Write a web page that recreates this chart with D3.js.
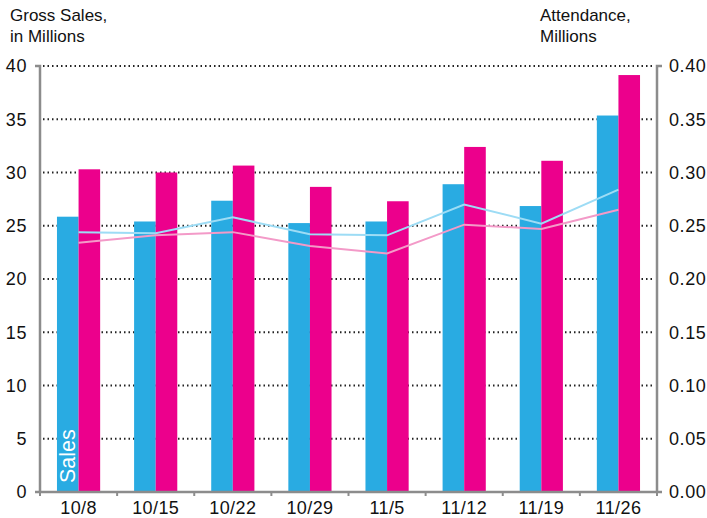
<!DOCTYPE html>
<html>
<head>
<meta charset="utf-8">
<script src="https://cdn.jsdelivr.net/npm/d3@7"></script>
<style>
  body { margin: 0; background: #fff; }
  svg text { font-family: "Liberation Sans", Arial, sans-serif; fill: #111; }
</style>
</head>
<body>
<svg id="canvas" width="707" height="518"></svg>
<script>
let weeks = ['10/8', '10/15', '10/22', '10/29', '11/5', '11/12', '11/19', '11/26']
let salesA = [25.85, 25.4, 27.35, 25.25, 25.4, 28.9, 26.85, 35.35]
let salesB = [30.3, 30.0, 30.65, 28.65, 27.3, 32.4, 31.1, 39.15]
let attendA = [0.244, 0.243, 0.258, 0.242, 0.241, 0.270, 0.252, 0.284]
let attendB = [0.234, 0.241, 0.244, 0.231, 0.224, 0.251, 0.247, 0.265]
let leftTicks = [0, 5, 10, 15, 20, 25, 30, 35, 40]
let rightTicks = [0, 0.05, 0.1, 0.15, 0.2, 0.25, 0.3, 0.35, 0.4]

let canvas = d3.select('#canvas')
let plotL = 40, plotR = 657, plotT = 66, plotB = 492

let xScale = d3.scaleBand().domain(weeks).range([plotL, plotR]).paddingInner(0.44).paddingOuter(0.22)
let yLeft = d3.scaleLinear().domain([0, 40]).range([plotB, plotT])
let yRight = d3.scaleLinear().domain([0, 0.4]).range([plotB, plotT])

// dotted grid
canvas.selectAll('.grid')
      .data(leftTicks.slice(1))
      .enter()
      .append('line')
      .attr('x1', plotL + 3)
      .attr('x2', plotR - 2)
      .attr('y1', (d) => yLeft(d))
      .attr('y2', (d) => yLeft(d))
      .attr('stroke', '#222')
      .attr('stroke-width', 2)
      .attr('stroke-dasharray', '1.5,3')

// bars
let bw = xScale.bandwidth() / 2
canvas.selectAll('.barA')
      .data(weeks)
      .enter()
      .append('rect')
      .attr('x', (d) => xScale(d))
      .attr('y', (d, i) => yLeft(salesA[i]))
      .attr('width', bw)
      .attr('height', (d, i) => plotB - yLeft(salesA[i]))
      .attr('fill', '#29abe2')
canvas.selectAll('.barB')
      .data(weeks)
      .enter()
      .append('rect')
      .attr('x', (d) => xScale(d) + bw)
      .attr('y', (d, i) => yLeft(salesB[i]))
      .attr('width', bw)
      .attr('height', (d, i) => plotB - yLeft(salesB[i]))
      .attr('fill', '#ec008c')

// attendance lines
let center = (d) => xScale(d) + bw
let lineA = d3.line().x((d, i) => center(weeks[i])).y((d) => yRight(d))
canvas.append('path')
      .attr('d', lineA(attendA))
      .attr('fill', 'none')
      .attr('stroke', '#9ddcf5')
      .attr('stroke-width', 2)
canvas.append('path')
      .attr('d', lineA(attendB))
      .attr('fill', 'none')
      .attr('stroke', '#f39ac8')
      .attr('stroke-width', 2)

// axes
let leftAxis = d3.axisLeft(yLeft).tickValues(leftTicks).tickSize(0).tickPadding(13)
let rightAxis = d3.axisRight(yRight).tickValues(rightTicks).tickSize(0).tickPadding(12)
  .tickFormat(d3.format('.2f'))
let ga = canvas.append('g').attr('transform', 'translate(' + plotL + ',0)').call(leftAxis)
let gb = canvas.append('g').attr('transform', 'translate(' + plotR + ',0)').call(rightAxis)
;[ga, gb].forEach((g) => {
  g.select('.domain').remove()
  g.selectAll('text').attr('font-size', 18).attr('fill', '#111')
    .attr('letter-spacing', 0.6)
    .attr('font-family', '"Liberation Sans", Arial, sans-serif')
})
let axisColor = '#8c8c8c'
canvas.append('path')
      .attr('d', 'M' + (plotL - 5) + ',' + plotT + 'H' + plotL + 'V' + plotB)
      .attr('fill', 'none').attr('stroke', axisColor).attr('stroke-width', 2.5)
canvas.append('path')
      .attr('d', 'M' + (plotR + 5) + ',' + plotT + 'H' + plotR + 'V' + plotB)
      .attr('fill', 'none').attr('stroke', axisColor).attr('stroke-width', 2.5)

let bottomAxis = d3.axisBottom(xScale).tickSize(0).tickPadding(9)
let gx = canvas.append('g').attr('transform', 'translate(0,' + plotB + ')').call(bottomAxis)
gx.select('.domain').remove()
gx.selectAll('text').attr('font-size', 18).attr('fill', '#111')
  .attr('letter-spacing', 0.4)
  .attr('font-family', '"Liberation Sans", Arial, sans-serif')
canvas.append('line')
      .attr('x1', plotL - 5).attr('x2', plotR + 5)
      .attr('y1', plotB).attr('y2', plotB)
      .attr('stroke', axisColor).attr('stroke-width', 2.5)
let seps = d3.range(weeks.length + 1).map((i) => plotL + i * (plotR - plotL) / weeks.length)
canvas.selectAll('.sep')
      .data(seps)
      .enter()
      .append('line')
      .attr('x1', (d) => d).attr('x2', (d) => d)
      .attr('y1', plotB).attr('y2', plotB + 4)
      .attr('stroke', axisColor).attr('stroke-width', 2)

// titles
canvas.append('text').attr('x', 10).attr('y', 21).attr('font-size', 17).text('Gross Sales,')
canvas.append('text').attr('x', 10).attr('y', 42).attr('font-size', 17).text('in Millions')
canvas.append('text').attr('x', 540).attr('y', 21).attr('font-size', 17).text('Attendance,')
canvas.append('text').attr('x', 540).attr('y', 42).attr('font-size', 17).text('Millions')

// series label inside first bar
canvas.append('text')
      .attr('transform', 'translate(' + (xScale(weeks[0]) + bw / 2 + 7.5) + ',' + (plotB - 9) + ') rotate(-90)')
      .attr('font-size', 21.5)
      .style('fill', '#fff')
      .text('Sales')
</script>
</body>
</html>
